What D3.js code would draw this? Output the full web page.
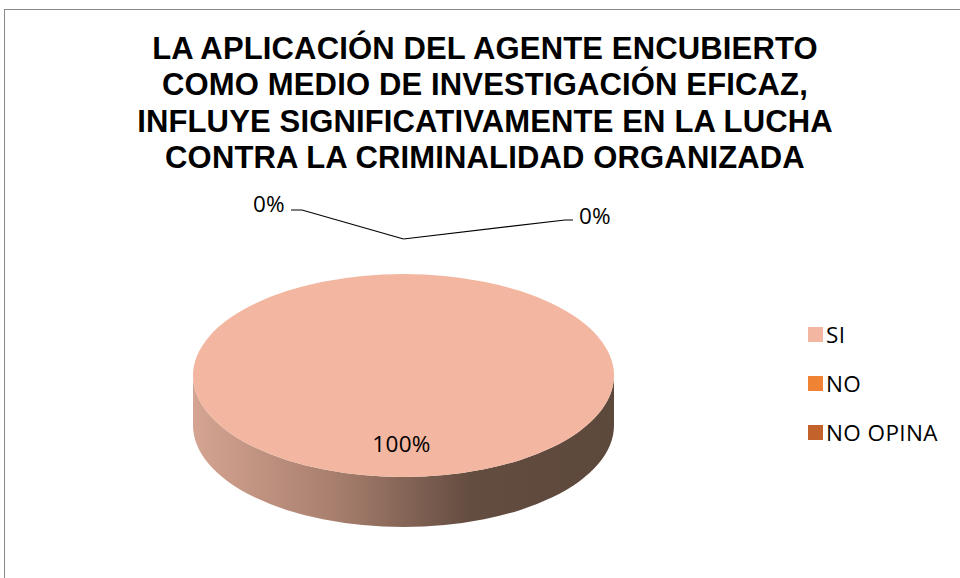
<!DOCTYPE html>
<html>
<head>
<meta charset="utf-8">
<script src="https://cdn.jsdelivr.net/npm/d3@7.9.0/dist/d3.min.js"></script>
<style>
  body { margin: 0; background: #fff; }
  svg { display: block; }
</style>
</head>
<body>
<svg id="chart" width="960" height="578"></svg>
<script>
let categories = ['SI', 'NO', 'NO OPINA'];
let values = [100, 0, 0];
let colors = ['#f3b6a0', '#ef8233', '#c4622b'];
let titleLines = [
  'LA APLICACIÓN DEL AGENTE ENCUBIERTO',
  'COMO MEDIO DE INVESTIGACIÓN EFICAZ,',
  'INFLUYE SIGNIFICATIVAMENTE EN LA LUCHA',
  'CONTRA LA CRIMINALIDAD ORGANIZADA'
];

let svg = d3.select('#chart');
let labelFont = '"Open Sans", Lato, sans-serif';
let labelSize = 22.5;

// frame
svg.append('rect')
  .attr('x', 4.5).attr('y', 9.5)
  .attr('width', 980).attr('height', 600)
  .attr('fill', 'none').attr('stroke', '#898989').attr('stroke-width', 1);

// title
svg.append('g').selectAll('text')
  .data(titleLines)
  .join('text')
  .attr('x', 485)
  .attr('y', (d, i) => 59 + i * 36.4)
  .attr('text-anchor', 'middle')
  .attr('font-family', '"Liberation Sans", Arial, sans-serif')
  .attr('font-weight', 'bold')
  .attr('font-size', 31)
  .attr('letter-spacing', 0.15)
  .attr('fill', '#000')
  .text((d) => d);

// pie geometry
let cx = 403.5, cy = 375.5, rx = 210.5, ry = 101.5, depth = 50;
let total = d3.sum(values);
let pct = d3.format('.0%');
let arcData = d3.pie().sort(null).value((d) => d)(values);
let arcGen = d3.arc().innerRadius(0).outerRadius(rx);

let defs = svg.append('defs');
let grad = defs.append('linearGradient')
  .attr('id', 'side')
  .attr('gradientUnits', 'userSpaceOnUse')
  .attr('x1', cx - rx).attr('x2', cx + rx).attr('y1', 0).attr('y2', 0);
grad.append('stop').attr('offset', 0).attr('stop-color', '#d5a492');
grad.append('stop').attr('offset', 0.35).attr('stop-color', '#a67d6c');
grad.append('stop').attr('offset', 0.66).attr('stop-color', '#634c40');
grad.append('stop').attr('offset', 1).attr('stop-color', '#5d483c');

// side wall (front half)
let sidePath = `M${cx - rx},${cy} L${cx - rx},${cy + depth} ` +
  `A${rx},${ry} 0 0 0 ${cx + rx},${cy + depth} L${cx + rx},${cy} ` +
  `A${rx},${ry} 0 0 1 ${cx - rx},${cy} Z`;
svg.append('path').attr('d', sidePath).attr('fill', 'url(#side)');

// top face slices
let face = svg.append('g')
  .attr('transform', `translate(${cx},${cy}) scale(1,${ry / rx})`);
face.selectAll('path')
  .data(arcData)
  .join('path')
  .attr('d', arcGen)
  .attr('fill', (d, i) => colors[i]);

function proj(a, k) {
  return [cx + rx * k * Math.sin(a), cy - ry * k * Math.cos(a)];
}

// labels
arcData.forEach((d, i) => {
  let share = d.value / total;
  if (share > 0) {
    let mid = (d.startAngle + d.endAngle) / 2;
    let p = share === 1 ? [cx, cy + ry * 0.68] : proj(mid, 0.6);
    svg.append('text')
      .attr('x', p[0] - 2).attr('y', p[1] + 7)
      .attr('text-anchor', 'middle')
      .attr('font-family', labelFont)
      .attr('font-size', labelSize)
      .attr('letter-spacing', 0.3)
      .text(pct(share));
  }
});

// zero-value labels with leader lines
let zeroSlices = arcData.filter((d) => d.value === 0);
let anchor = proj(zeroSlices.length ? zeroSlices[0].startAngle : 0, 1);
let apex = [anchor[0], anchor[1] - 35];
let zeroPos = [
  { line: [[291, 210], [302, 210]], text: [269, 212] },
  { line: [[573, 220], [565, 220]], text: [595, 224] }
];
zeroSlices.forEach((d, i) => {
  let z = zeroPos[i];
  let pts = [z.line[0], z.line[1], apex];
  svg.append('path')
    .attr('d', d3.line()(pts))
    .attr('fill', 'none').attr('stroke', '#000').attr('stroke-width', 1.2);
  svg.append('text')
    .attr('x', z.text[0]).attr('y', z.text[1])
    .attr('text-anchor', 'middle')
    .attr('font-family', labelFont)
    .attr('font-size', labelSize)
    .attr('letter-spacing', 0.3)
    .text(pct(d.value / total));
});

// legend
let legend = svg.append('g').attr('transform', 'translate(808,0)');
let ly = d3.scalePoint().domain(categories).range([335, 433]);
categories.forEach((c, i) => {
  legend.append('rect')
    .attr('x', 0).attr('y', ly(c) - 8)
    .attr('width', 15).attr('height', 15)
    .attr('fill', colors[i]);
  legend.append('text')
    .attr('x', 18).attr('y', ly(c) + 8)
    .attr('font-family', labelFont)
    .attr('font-size', labelSize)
    .attr('letter-spacing', 0.4)
    .text(c);
});
</script>
</body>
</html>
